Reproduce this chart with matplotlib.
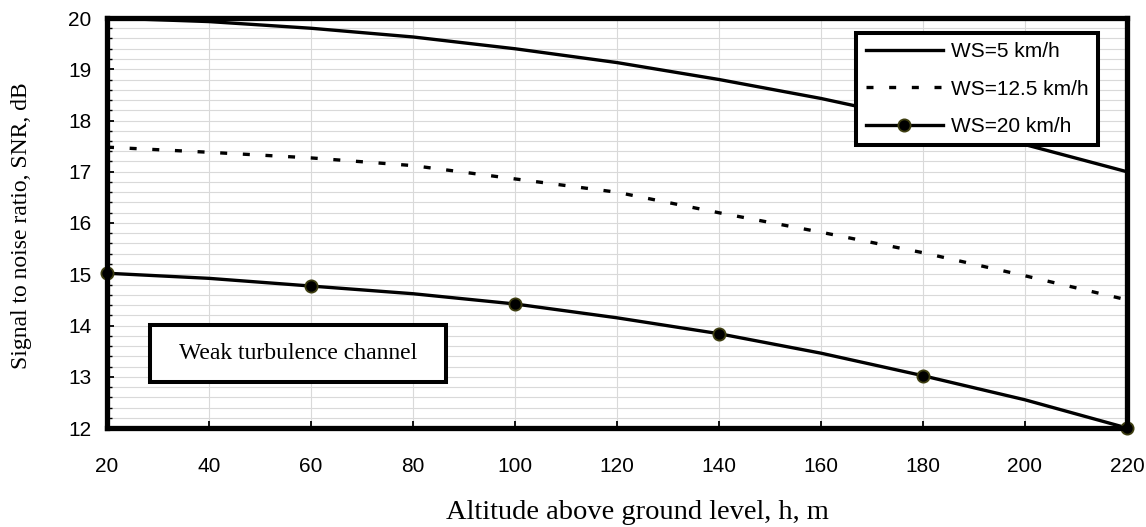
import matplotlib
matplotlib.use("Agg")
import matplotlib.pyplot as plt
from matplotlib.ticker import MultipleLocator
from matplotlib.patches import Rectangle

altitude = [20, 40, 60, 80, 100, 120, 140, 160, 180, 200, 220]
snr_ws5 = [20.0, 19.93, 19.8, 19.63, 19.4, 19.13, 18.8, 18.43, 18.0, 17.53, 17.0]
snr_ws125 = [17.48, 17.38, 17.27, 17.12, 16.86, 16.6, 16.2, 15.82, 15.42, 14.97, 14.5]
snr_ws20 = [15.02, 14.92, 14.77, 14.62, 14.42, 14.15, 13.84, 13.46, 13.02, 12.55, 12.0]
labels = ["WS=5 km/h", "WS=12.5 km/h", "WS=20 km/h"]
x_ticks = [20, 40, 60, 80, 100, 120, 140, 160, 180, 200, 220]
y_ticks = [12, 13, 14, 15, 16, 17, 18, 19, 20]

W, H = 1146, 527
fig = plt.figure(figsize=(W / 100, H / 100), dpi=100)
ax = fig.add_axes([107 / W, 1 - 428 / H, (1127 - 107) / W, (428 - 18) / H])

lw = 2.4
ax.plot(altitude, snr_ws5, color="black", lw=lw, label=labels[0], zorder=3)
ax.plot(altitude, snr_ws125, color="black", lw=lw, dashes=(2.1, 4.7),
        label=labels[1], zorder=3)
ax.plot(altitude, snr_ws20, color="black", lw=lw, marker="o", markevery=2,
        markersize=8.8, markerfacecolor="black", markeredgecolor="#3d3d10",
        markeredgewidth=1.3, label=labels[2], zorder=4, clip_on=False)

ax.set_xlim(20, 220)
ax.set_ylim(12, 20)
ax.set_xticks(x_ticks)
ax.set_yticks(y_ticks)
ax.yaxis.set_minor_locator(MultipleLocator(0.2))

ax.grid(which="major", axis="x", color="#d9d9d9", lw=0.8, zorder=0)
ax.grid(which="both", axis="y", color="#d9d9d9", lw=0.8, zorder=0)

for s in ax.spines.values():
    s.set_linewidth(3.8)
    s.set_color("black")
    s.set_zorder(5)

ax.tick_params(axis="both", which="major", direction="in", length=5, width=1.3,
               labelsize=15)
ax.tick_params(axis="y", which="major", pad=11)
ax.tick_params(axis="x", which="major", pad=21)
ax.tick_params(axis="y", which="minor", direction="in", length=3.5, width=1.0)
for lab in ax.get_xticklabels() + ax.get_yticklabels():
    lab.set_fontfamily("Liberation Sans")

fig.text(637 / W, 1 - 519 / H, "Altitude above ground level, h, m",
         fontfamily="Liberation Serif", fontsize=20.5, ha="center", va="baseline")
fig.text(22 / W, 1 - 226 / H, "Signal to noise ratio, SNR, dB",
         fontfamily="Liberation Serif", fontsize=17, ha="center", va="center",
         rotation=90)

leg = ax.legend(loc="upper right",
                bbox_to_anchor=((1098 - 107) / 1020, (428 - 33) / 410),
                prop={"family": "Liberation Sans", "size": 15},
                frameon=True, fancybox=False, framealpha=1, edgecolor="black",
                handlelength=3.7, handletextpad=0.4, borderpad=0.45,
                labelspacing=0.88, borderaxespad=0)
leg.get_frame().set_linewidth(2.9)
leg.set_zorder(6)

# annotation box: text, then a rectangle sized around it
txt = ax.text((179 - 107) / 1020, (428 - 353.5) / 410, "Weak turbulence channel",
              transform=ax.transAxes, fontfamily="Liberation Serif", fontsize=17,
              ha="left", va="center", zorder=8)
fig.canvas.draw()
bb = txt.get_window_extent().transformed(ax.transAxes.inverted())
padx = 29 / 1020
box_bottom = (428 - 382) / 410
box_top = (428 - 325) / 410
rect = Rectangle((bb.x0 - padx, box_bottom), bb.width + 2 * padx, box_top - box_bottom,
                 transform=ax.transAxes, facecolor="white", edgecolor="black",
                 linewidth=2.9, zorder=7)
ax.add_patch(rect)

fig.savefig("out.png", dpi=100)
